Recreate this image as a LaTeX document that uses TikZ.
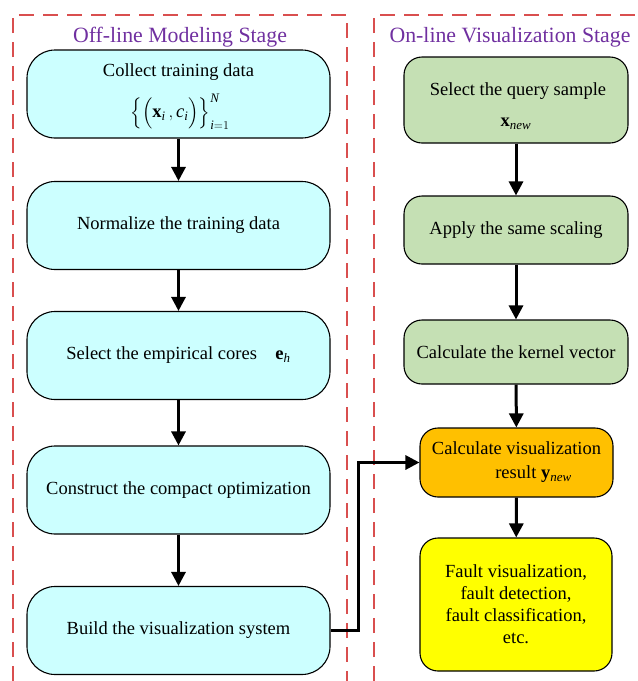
\documentclass[tikz,border=0pt]{standalone}
\usepackage{exscale}
\usepackage{fontspec}
\setmainfont{Liberation Serif}
\usetikzlibrary{arrows.meta}
\definecolor{cyanfill}{HTML}{CCFFFF}
\definecolor{greenfill}{HTML}{C5E0B4}
\definecolor{orangefill}{HTML}{FFC000}
\definecolor{yellowfill}{HTML}{FFFF00}
\definecolor{dashred}{HTML}{D94F4F}
\definecolor{titlepurple}{HTML}{7030A0}
\begin{document}
\begin{tikzpicture}[x=1pt,y=-1pt,
  leftbox/.style={draw=black,line width=1.1pt,fill=cyanfill,rounded corners=28pt,minimum width=303pt,minimum height=88pt,align=center,font=\fontsize{18.5}{22}\selectfont,inner sep=0pt},
  rightbox/.style={draw=black,line width=1.1pt,rounded corners=18pt,align=center,font=\fontsize{18.5}{22}\selectfont,inner sep=0pt},
  flow/.style={line width=3pt,-{Triangle[length=14pt,width=14pt]}},
  frame/.style={dashred,line width=1.2pt,dash pattern=on 15pt off 9pt},
  stagetitle/.style={text=titlepurple,font=\fontsize{21.8}{24}\selectfont,inner sep=0pt},
  plain/.style={inner sep=0pt,font=\fontsize{18.5}{22}\selectfont}]
\useasboundingbox (0,0) rectangle (638,681);
% frames
\draw[frame] (13,681) -- (13,15) -- (347,15) -- (347,681);
\draw[frame] (374,681) -- (374,15) -- (638,15);
\node[stagetitle] (t1) at (180,37) {Off-line Modeling Stage};
\node[stagetitle] (t2) at (510,37) {On-line Visualization Stage};
% left boxes
\node[leftbox] (b1) at (178.5,94) {};
\node[plain] (b1a) at (178.5,72) {Collect training data};
\node[plain] (b1b) at (180,112) {$\Bigl\{\Bigl(\mathbf{x}_{\mathit{i}}\,,\mathit{c}_{\mathit{i}}\Bigr)\Bigr\}_{\mathit{i}=1}^{\mathit{N}}$};
\node[leftbox] (b2) at (178.5,225.5) {Normalize the training data};
\node[leftbox] (b3) at (178.5,355.5) {Select the empirical cores\quad $\mathbf{e}_{\mathit{h}}$};
\node[leftbox] (b4) at (178.5,490) {Construct the compact optimization};
\node[leftbox] (b5) at (178.5,630.5) {Build the visualization system};
% right boxes
\node[rightbox,fill=greenfill,minimum width=224pt,minimum height=86pt] (g1) at (516,100) {};
\node[plain] (g1a) at (518,91) {Select the query sample};
\node[plain] (g1b) at (516,124) {$\mathbf{x}_{\mathit{new}}$};
\node[rightbox,fill=greenfill,minimum width=224pt,minimum height=68pt] (g2) at (516,230) {Apply the same scaling};
\node[rightbox,fill=greenfill,minimum width=224pt,minimum height=64pt] (g3) at (516,352) {Calculate the kernel vector};
\node[rightbox,fill=orangefill,minimum width=193pt,minimum height=69pt] (o) at (516.5,462.5) {Calculate visualization\\[2pt] \hspace*{34pt}result $\mathbf{y}_{\mathit{new}}$};
\node[rightbox,fill=yellowfill,minimum width=192pt,minimum height=133pt] (y) at (516,604.5) {Fault visualization,\\ fault detection,\\ fault classification,\\ etc.};
% arrows
\draw[flow] (b1) -- (b2);
\draw[flow] (b2) -- (b3);
\draw[flow] (b3) -- (b4);
\draw[flow] (b4) -- (b5);
\draw[flow] (g1) -- (g2);
\draw[flow] (g2) -- (g3);
\draw[flow] (g3) -- (o);
\draw[flow] (o) -- (y);
\draw[flow] (b5.east) -- ++(28,0) |- (o.west);
\end{tikzpicture}
\end{document}
